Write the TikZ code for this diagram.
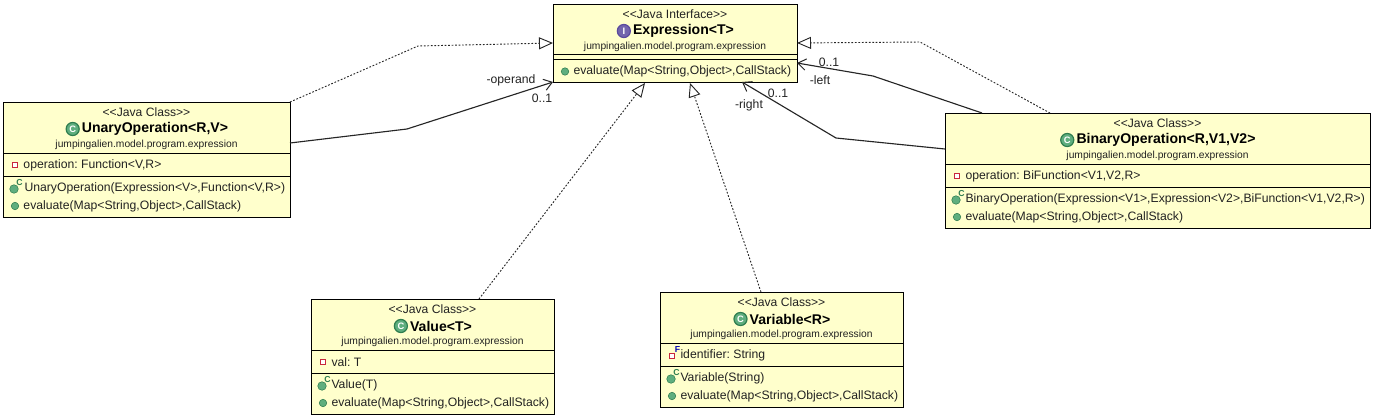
\documentclass[tikz,border=0pt]{standalone}
\usepackage{fontspec}
\setmainfont{Liberation Sans}
\usetikzlibrary{arrows.meta, calc, positioning}
\definecolor{umlFill}{HTML}{FFFFCC}
\definecolor{umlGreen}{HTML}{5FAE7E}
\definecolor{umlDark}{HTML}{2E7D4F}
\definecolor{umlRed}{HTML}{C8283C}
\definecolor{umlPurple}{HTML}{5A4A9E}
\definecolor{umlText}{HTML}{222222}
\tikzset{
  every picture/.append style = {line width=0.75pt},
  classbox/.style   = {draw=black, fill=umlFill, outer sep=0pt, inner sep=0pt, line width=0.75pt},
  sepline/.style    = {black, line width=0.75pt},
  stereo/.style     = {font=\fontsize{9.1}{10}\selectfont\frenchspacing, umlText, inner sep=0pt},
  title/.style      = {font=\fontsize{10.55}{12}\selectfont\bfseries, black, inner sep=0pt},
  pkg/.style        = {font=\fontsize{7.7}{8}\selectfont, umlText, inner sep=0pt},
  member/.style     = {font=\fontsize{9.15}{10}\selectfont\frenchspacing, umlText, inner sep=0pt, anchor=west},
  lbl/.style        = {font=\fontsize{9.15}{10}\selectfont, umlText, inner sep=0pt},
  kindicon/.style   = {circle, draw=umlDark, fill=umlGreen, minimum size=9.8pt, inner sep=0pt, line width=0.9pt,
                       font=\fontsize{7}{6}\selectfont\bfseries, text=white},
  methicon/.style   = {circle, draw=umlDark, fill=umlGreen, minimum size=5.6pt, inner sep=0pt, line width=0.4pt},
  ctoricon/.style   = {methicon, minimum size=6.4pt},
  fieldicon/.style  = {rectangle, draw=umlRed, fill=white, minimum size=3.6pt, inner sep=0pt, line width=1.1pt},
  flag/.style       = {font=\fontsize{6.5}{6}\selectfont\bfseries, inner sep=0pt},
  realize/.style    = {black!85, dash pattern=on 1.3pt off 1.3pt, line width=0.7pt,
                       -{Triangle[open, length=10.5pt, width=9pt, line width=0.7pt]}},
  assoc/.style      = {black!85, line width=0.85pt, -{Straight Barb[length=6pt, width=8.5pt, line width=0.75pt]}},
}
% box with its three header lines; #2,#3 = top left, #4,#5 = bottom right
\newcommand{\classhead}[7]{
  \node[classbox, minimum width={(#4-#2)*0.75pt}, minimum height={(#5-#3)*0.75pt}] (#1) at ({(#2+#4)/2},{(#3+#5)/2}) {};
  \node[stereo] (#1stereo) at ({(#2+#4)/2},#3+10) {<{}<#6>{}>};
  \node[title] (#1title) at ({(#2+#4)/2+8.5},#3+27) {#7};
  \node[pkg] (#1pkg) at ({(#2+#4)/2},#3+43) {jumpingalien.model.program.expression};
}
\begin{document}
\begin{tikzpicture}[x=0.75pt,y=-0.75pt]
  \useasboundingbox (0,0) rectangle (1374,418);
  % interface on top
  \classhead{expr}{553}{4}{797}{82}{Java Interface}{Expression<T>}
  \node[kindicon, draw=umlPurple, fill=umlPurple!85, left=1.2pt of exprtitle] (expricon) {I};
  \draw[sepline] (553,54.5) -- (797,54.5) (553,59.5) -- (797,59.5);
  \node[methicon] (exprmethicon) at (565,71.5) {};
  \node[member] (exprmeth) at (573,71.5) {evaluate(Map<String,Object>,CallStack)};
  % unary operation
  \classhead{unary}{3}{102}{290}{217}{Java Class}{UnaryOperation<R,V>}
  \node[kindicon, left=1.2pt of unarytitle] (unaryicon) {C};
  \draw[sepline] (3,153) -- (290,153) (3,176) -- (290,176);
  \node[fieldicon] (unaryfieldicon) at (15,165) {};
  \node[member] (unaryfield) at (23,165) {operation: Function<V,R>};
  \node[ctoricon] (unaryctoricon) at (14,189) {};
  \node[flag, umlDark] (unaryflag) at (19.5,183) {C};
  \node[member] (unaryctor) at (24,188) {UnaryOperation(Expression<V>,Function<V,R>)};
  \node[methicon] (unarymethicon) at (15,206) {};
  \node[member] (unarymeth) at (23,206) {evaluate(Map<String,Object>,CallStack)};
  % binary operation
  \classhead{binary}{945}{113}{1370}{228}{Java Class}{BinaryOperation<R,V1,V2>}
  \node[kindicon, left=1.2pt of binarytitle] (binaryicon) {C};
  \draw[sepline] (945,164) -- (1370,164) (945,187) -- (1370,187);
  \node[fieldicon] (binaryfieldicon) at (957,176) {};
  \node[member] (binaryfield) at (965,176) {operation: BiFunction<V1,V2,R>};
  \node[ctoricon] (binaryctoricon) at (956,200) {};
  \node[flag, umlDark] (binaryflag) at (961.5,194) {C};
  \node[member] (binaryctor) at (965,199) {BinaryOperation(Expression<V1>,Expression<V2>,BiFunction<V1,V2,R>)};
  \node[methicon] (binarymethicon) at (957,217) {};
  \node[member] (binarymeth) at (965,217) {evaluate(Map<String,Object>,CallStack)};
  % value
  \classhead{value}{311}{299}{554}{414}{Java Class}{Value<T>}
  \node[kindicon, left=1.2pt of valuetitle] (valueicon) {C};
  \draw[sepline] (311,350) -- (554,350) (311,373) -- (554,373);
  \node[fieldicon] (valuefieldicon) at (323,362) {};
  \node[member] (valuefield) at (331,362) {val: T};
  \node[ctoricon] (valuectoricon) at (322,386) {};
  \node[flag, umlDark] (valueflag) at (327.5,380) {C};
  \node[member] (valuector) at (331,385) {Value(T)};
  \node[methicon] (valuemethicon) at (323,403) {};
  \node[member] (valuemeth) at (331,403) {evaluate(Map<String,Object>,CallStack)};
  % variable
  \classhead{var}{660}{292}{903}{407}{Java Class}{Variable<R>}
  \node[kindicon, left=1.2pt of vartitle] (varicon) {C};
  \draw[sepline] (660,343) -- (903,343) (660,366) -- (903,366);
  \node[fieldicon] (varfieldicon) at (672,356) {};
  \node[flag, blue!70!black] (varfieldflag) at (677.5,350) {F};
  \node[member] (varfield) at (680,355) {identifier: String};
  \node[ctoricon] (varctoricon) at (671,379) {};
  \node[flag, umlDark] (varflag) at (676.5,373) {C};
  \node[member] (varctor) at (680,378) {Variable(String)};
  \node[methicon] (varmethicon) at (672,396) {};
  \node[member] (varmeth) at (680,396) {evaluate(Map<String,Object>,CallStack)};
  % bends of the connectors
  \coordinate (unarybendtop) at (418,46);
  \coordinate (unarybendlow) at (407,129);
  \coordinate (binarybendtop) at (920,42);
  \coordinate (binarybendmid) at (873,76);
  \coordinate (binarybendlow) at (836,138);
  % realizations
  \draw[realize] (unary.north east) -- (unarybendtop) -- (expr.west);
  \draw[realize] ($(binary.north west)+(105,0)$) -- (binarybendtop) -- (expr.east);
  \draw[realize] ($(value.north)+(46.5,0)$) -- ($(expr.south west)+(92,1)$);
  \draw[realize] ($(var.north)+(-20.5,0)$) -- ($(expr.south west)+(137,1)$);
  % associations
  \draw[assoc] ($(unary.east)+(0,-16.5)$) -- (unarybendlow) -- (expr.south west);
  \draw[assoc] ($(binary.north west)+(37,0)$) -- (binarybendmid) -- ($(expr.east)+(0,20)$);
  \draw[assoc] ($(binary.west)+(0,-21.5)$) -- (binarybendlow) -- ($(expr.south west)+(189,0)$);
  % role names and multiplicities
  \node[lbl] (oprole) at (511,80) {-operand};
  \node[lbl] (opmult) at (542,98) {0..1};
  \node[lbl] (leftmult) at (829,62) {0..1};
  \node[lbl] (leftrole) at (820,80) {-left};
  \node[lbl] (rightmult) at (778,93) {0..1};
  \node[lbl] (rightrole) at (749,105) {-right};
\end{tikzpicture}
\end{document}
